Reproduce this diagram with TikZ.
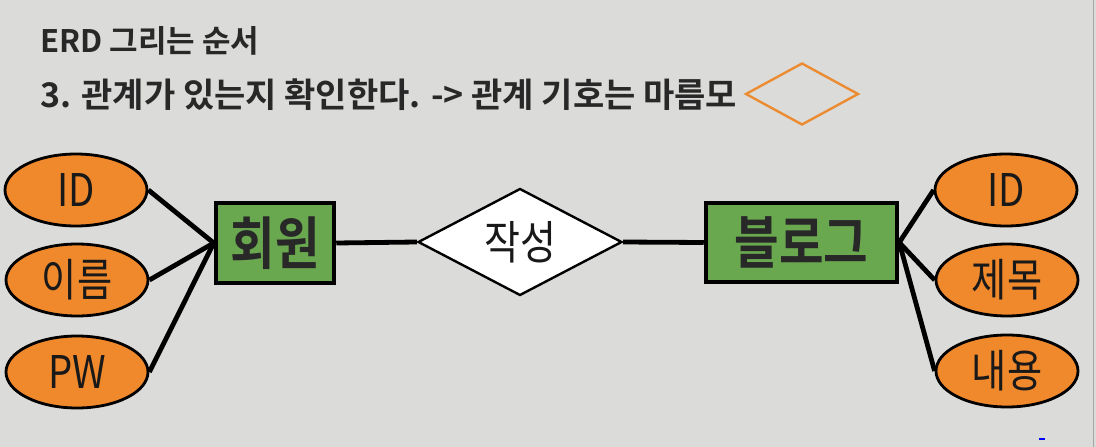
\documentclass[tikz,border=0pt]{standalone}
\usepackage{fontspec}
\usetikzlibrary{shapes.geometric}
\newfontfamily\kr[FakeStretch=0.85,BoldFont=* Bold]{Noto Sans CJK KR}
\newfontfamily\krn[BoldFont=* Bold]{Noto Sans CJK KR}
\definecolor{bg}{RGB}{219,219,217}
\definecolor{attrfill}{RGB}{240,136,44}
\definecolor{entfill}{RGB}{106,168,79}
\definecolor{ink}{RGB}{40,40,40}
\definecolor{diaor}{RGB}{236,140,50}
\tikzset{
  attr/.style={ellipse,draw=black,line width=2.8pt,fill=attrfill,minimum width=142pt,minimum height=72pt,inner sep=0pt,font=\kr\fontsize{45}{48}\selectfont,text=black!90},
  ent/.style={rectangle,draw=black,line width=4.5pt,fill=entfill,inner sep=0pt,font=\kr\bfseries\fontsize{57}{60}\selectfont,text=ink},
  rel/.style={diamond,draw=black,line width=2.4pt,fill=white,inner sep=0pt,font=\kr\fontsize{46}{48}\selectfont,text=black!90},
  conn/.style={line width=4.8pt,draw=black},
  ttl/.style={anchor=base west,inner sep=0pt,text=ink,font=\krn\bfseries}
}
\begin{document}
\begin{tikzpicture}[x=1pt,y=-1pt]
\fill[bg] (0,0) rectangle (1096,447);
\useasboundingbox (0,0) rectangle (1096,447);
\draw[gray!70,line width=1pt] (1093,0) -- (1093,447);
\fill[blue] (1039,437.5) rectangle (1045,440);
% titles
\node[ttl,font=\krn\bfseries\fontsize{31}{32}\selectfont] (t1) at (40,52) {ERD 그리는 순서};
\node[ttl,font=\krn\bfseries\fontsize{34}{38}\selectfont] (t2) at (40,107) {3. 관계가 있는지 확인한다. -> 관계 기호는 마름모};
\node[diamond,draw=diaor,line width=2.4pt,minimum width=113pt,minimum height=62pt,inner sep=0pt,aspect=1.8] (sym) at (802,94) {};
% entities
\node[ent,minimum width=118pt,minimum height=80pt] (member) at (275,243) {회원};
\node[ent,minimum width=191pt,minimum height=79pt] (blog) at (801.5,242.5) {블로그};
% relationship
\node[rel,minimum width=204pt,minimum height=107pt,aspect=1.9] (write) at (520,242) {작성};
% attributes
\node[attr] (mid) at (76,190) {ID};
\node[attr] (mname) at (77,280) {이름};
\node[attr] (mpw) at (77,372) {PW};
\node[attr] (bid) at (1006,190) {ID};
\node[attr] (btitle) at (1007,280) {제목};
\node[attr] (bbody) at (1007,371) {내용};
% connectors
\draw[conn] (mid.east) -- (member.west);
\draw[conn] (mname.east) -- (member.west);
\draw[conn] (mpw.east) -- (member.west);
\draw[conn] (member.east) -- (write.west);
\draw[conn] (write.east) -- (blog.west);
\draw[conn] (blog.east) -- (bid.west);
\draw[conn] (blog.east) -- (btitle.west);
\draw[conn] (blog.east) -- (bbody.west);
\end{tikzpicture}
\end{document}
